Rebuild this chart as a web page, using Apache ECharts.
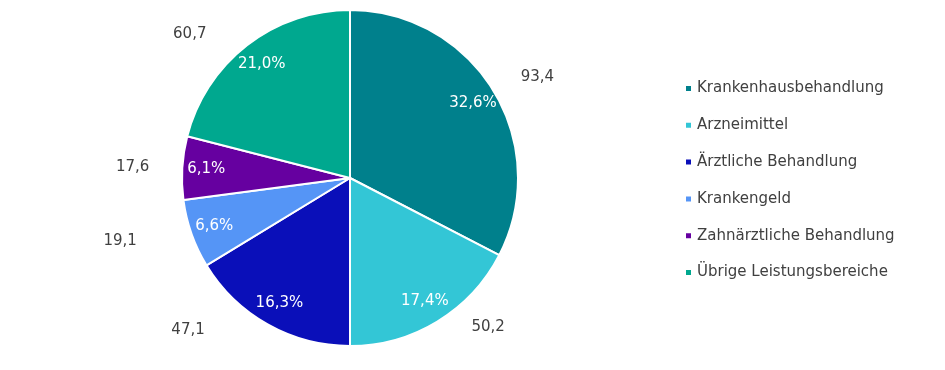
<!DOCTYPE html>
<html>
<head>
<meta charset="utf-8">
<script src="https://cdn.jsdelivr.net/npm/echarts@6/dist/echarts.min.js"></script>
<style>
html,body{margin:0;padding:0;background:#fff;}
#chart{width:945px;height:370px;}
</style>
</head>
<body>
<div id="chart"></div>
<script>
const categories = ['Krankenhausbehandlung','Arzneimittel','Ärztliche Behandlung','Krankengeld','Zahnärztliche Behandlung','Übrige Leistungsbereiche'];
const values = [93.4, 50.2, 47.1, 19.1, 17.6, 60.7];
const shares = [32.6, 17.4, 16.3, 6.6, 6.1, 21.0];

const colors = ['#00808C','#33C6D6','#0A0FB9','#5595F6','#6600A0','#00A88F'];
const lineLen = [[26,0],[6,26],[6,55],[22,29],[8,20],[14,27]];
const fmt = v => v.toFixed(1).replace('.', ',');
const FONT = '"DejaVu Sans", "Liberation Sans", Arial, sans-serif';

const chart = echarts.init(document.getElementById('chart'));
chart.setOption({
  animation: false,
  color: colors,
  legend: {
    orient: 'vertical',
    left: 679,
    top: 76,
    icon: 'rect',
    itemWidth: 7,
    itemHeight: 7,
    itemGap: 21.8,
    textStyle: {fontFamily: FONT, fontSize: 15, color: '#404040', padding: [0,0,0,0]},
    data: categories
  },
  series: [
    {
      type: 'pie',
      center: [350, 178],
      radius: [0, 168],
      startAngle: 90,
      avoidLabelOverlap: false,
      itemStyle: {borderColor: '#fff', borderWidth: 2},
      label: {
        position: 'outside',
        fontFamily: FONT,
        fontSize: 15,
        color: '#404040',
        padding: [3, 0, 0, 0],
        formatter: p => fmt(values[p.dataIndex])
      },
      labelLine: {show: false},
      emphasis: {disabled: true},
      data: categories.map((n, i) => ({
        name: n,
        value: shares[i],
        labelLine: {show: false, length: lineLen[i][0], length2: lineLen[i][1]}
      }))
    },
    {
      type: 'pie',
      center: [350, 178],
      radius: [114, 168],
      startAngle: 90,
      silent: true,
      avoidLabelOverlap: false,
      itemStyle: {color: 'rgba(0,0,0,0)', borderWidth: 0},
      label: {
        position: 'inside',
        fontFamily: FONT,
        fontSize: 15,
        color: '#ffffff',
        padding: [4, 0, 0, 0],
        formatter: p => fmt(shares[p.dataIndex]) + '%'
      },
      labelLine: {show: false},
      emphasis: {disabled: true},
      legendHoverLink: false,
      data: categories.map((n, i) => ({name: n, value: shares[i]}))
    }
  ]
});
</script>
</body>
</html>
